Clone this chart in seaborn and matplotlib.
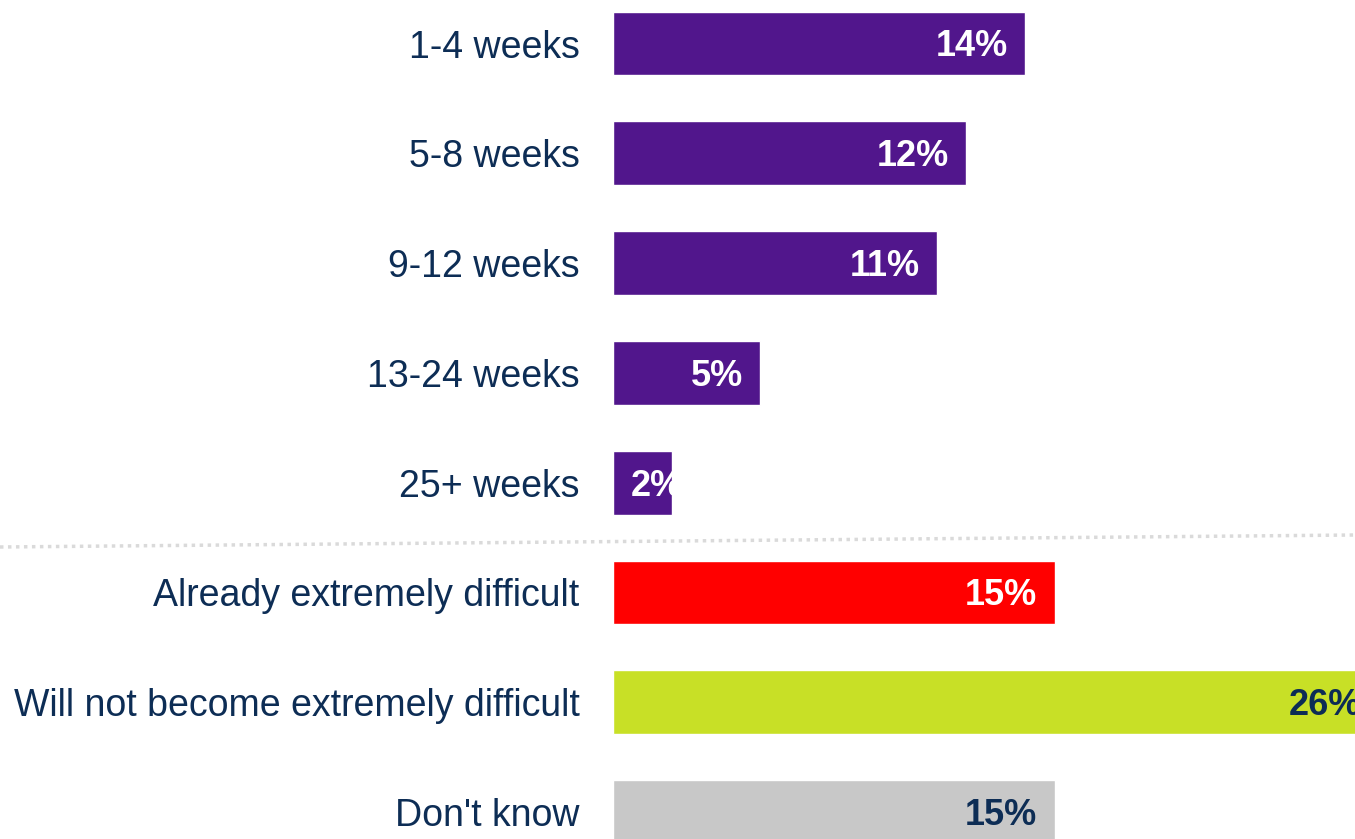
import matplotlib
matplotlib.use("Agg")
import matplotlib.pyplot as plt
from matplotlib.lines import Line2D
import seaborn as sns
import pandas as pd

categories = ["1-4 weeks", "5-8 weeks", "9-12 weeks", "13-24 weeks", "25+ weeks",
              "Already extremely difficult", "Will not become extremely difficult",
              "Don't know"]
values = [14, 12, 11, 5, 2, 15, 26, 15]
labels = ["14%", "12%", "11%", "5%", "2%", "15%", "26%", "15%"]
bar_colors = ["#51168C", "#51168C", "#51168C", "#51168C", "#51168C",
              "#FF0000", "#C8E026", "#C8C8C8"]
label_colors = ["white", "white", "white", "white", "white",
                "white", "#0D2D55", "#0D2D55"]

navy = "#0D2D55"

sns.set_theme(style="white")
plt.rcParams["font.family"] = ["Liberation Sans", "DejaVu Sans"]

W, H = 1355, 839
fig = plt.figure(figsize=(W / 100, H / 100), dpi=100)

# axes origin sits at the bar baseline; scale ~29.45 px per percentage point
x0_px = 613
px_per_unit = 29.45
ax = fig.add_axes([x0_px / W, 0, 1 - x0_px / W, 1])

df = pd.DataFrame({"category": categories, "value": values})
sns.barplot(data=df, x="value", y="category", hue="category",
            palette=bar_colors, legend=False, orient="h", width=0.58,
            saturation=1, ax=ax)

ax.set_xlim(0, (W - x0_px) / px_per_unit)
first_px, step_px = 43.5, 109.8
ax.set_ylim((H - first_px) / step_px, -first_px / step_px)

for s in ax.spines.values():
    s.set_visible(False)
ax.set_xlabel("")
ax.set_ylabel("")
ax.set_xticks([])
ax.tick_params(axis="y", length=0, pad=24, labelsize=27, labelcolor=navy)

patches = sorted(ax.patches, key=lambda p: p.get_y())
for i, (p, v, lab, col) in enumerate(zip(patches, values, labels, label_colors)):
    yc = p.get_y() + p.get_height() / 2
    if v >= 3:
        t = ax.annotate(lab, (v, yc), xytext=(-12.5, -2.5), textcoords="offset points",
                        ha="right", va="center", fontsize=26, fontweight="bold",
                        color=col, annotation_clip=False)
    else:
        t = ax.annotate(lab, (0, yc), xytext=(12.5, -2.5), textcoords="offset points",
                        ha="left", va="center", fontsize=26, fontweight="bold",
                        color=col, annotation_clip=False)
    t.set_clip_path(p)

# dotted separator between the duration groups and the other answers
sep = Line2D([0, 1], [1 - 547 / H, 1 - 535 / H], transform=fig.transFigure,
             color="#DADADA", linewidth=2.5, linestyle=(0, (1.0, 1.3)),
             dash_capstyle="butt")
fig.add_artist(sep)

fig.savefig("out.png", dpi=100)
